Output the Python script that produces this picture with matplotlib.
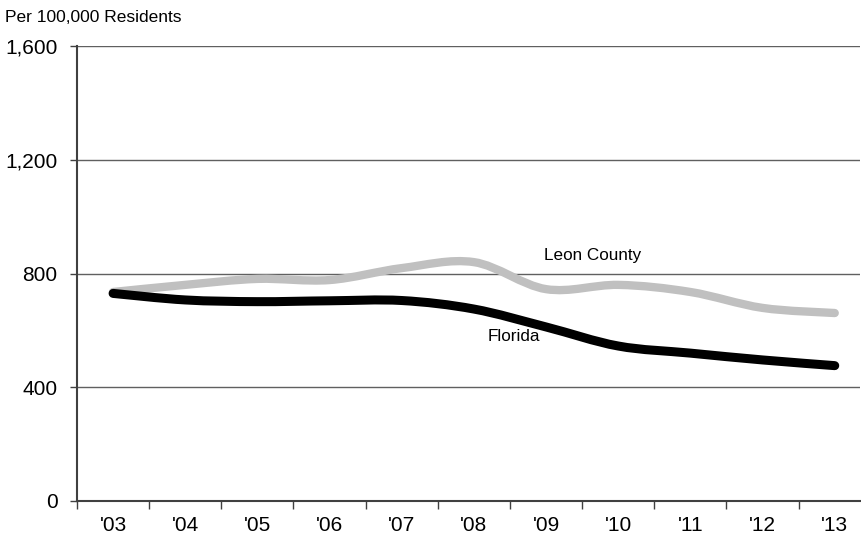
import matplotlib
matplotlib.use("Agg")
import matplotlib.pyplot as plt
from matplotlib.path import Path
from matplotlib.patches import PathPatch
import numpy as np

plt.rcParams['font.family'] = ['Liberation Sans', 'DejaVu Sans']

years = ["'03", "'04", "'05", "'06", "'07", "'08", "'09", "'10", "'11", "'12", "'13"]
leon_county = [735, 760, 781, 777, 819, 840, 745, 760, 735, 679, 661]
florida = [730, 707, 701, 704, 705, 675, 612, 545, 520, 496, 476]
y_ticks = [0, 400, 800, 1200, 1600]


def smooth_path(xs, ys, tension=1 / 6):
    """Catmull-Rom style smoothed path through the points, as cubic Bezier segments."""
    pts = np.column_stack([xs, ys]).astype(float)
    n = len(pts)
    verts = [pts[0]]
    codes = [Path.MOVETO]
    for i in range(n - 1):
        p0 = pts[i - 1] if i > 0 else pts[i]
        p1 = pts[i]
        p2 = pts[i + 1]
        p3 = pts[i + 2] if i + 2 < n else pts[i + 1]
        c1 = p1 + (p2 - p0) * tension
        c2 = p2 - (p3 - p1) * tension
        verts += [c1, c2, p2]
        codes += [Path.CURVE4] * 3
    return Path(verts, codes)


fig = plt.figure(figsize=(8.62, 5.38), dpi=100)
ax = fig.add_axes([77 / 862, 37 / 538, 783 / 862, 455 / 538])

x = np.arange(len(years))
ax.add_patch(PathPatch(smooth_path(x, leon_county), fill=False,
                       edgecolor='#c0c0c0', lw=6, capstyle='round', zorder=3))
ax.add_patch(PathPatch(smooth_path(x, florida), fill=False,
                       edgecolor='#000000', lw=6.5, capstyle='round', zorder=4))

ax.set_xlim(-0.5, 10.35)
ax.set_ylim(0, 1600)
ax.set_yticks(y_ticks)
ax.set_yticklabels([f"{v:,}" for v in y_ticks])
ax.set_xticks(x)
ax.set_xticklabels(years)
ax.set_xticks(np.arange(len(years)) - 0.5, minor=True)

ax.yaxis.grid(True, color='#606060', lw=1.0, zorder=1)
ax.set_axisbelow(True)
for side in ('top', 'right'):
    ax.spines[side].set_visible(False)
for side in ('left', 'bottom'):
    ax.spines[side].set_color('#404040')
    ax.spines[side].set_linewidth(1.5)

ax.tick_params(axis='y', which='major', length=5, width=1, color='#404040',
               labelsize=15, pad=9)
ax.tick_params(axis='x', which='major', length=0, labelsize=15, pad=11)
ax.tick_params(axis='x', which='minor', length=6, width=1, color='#404040',
               direction='out')

ax.text(5.97, 862, 'Leon County', fontsize=12.3, va='center', ha='left')
ax.text(5.19, 577, 'Florida', fontsize=12.3, va='center', ha='left')
fig.text(5 / 862, 1 - 17 / 538, 'Per 100,000 Residents', fontsize=12.5,
         va='center', ha='left')

fig.savefig('out.png', dpi=100)
